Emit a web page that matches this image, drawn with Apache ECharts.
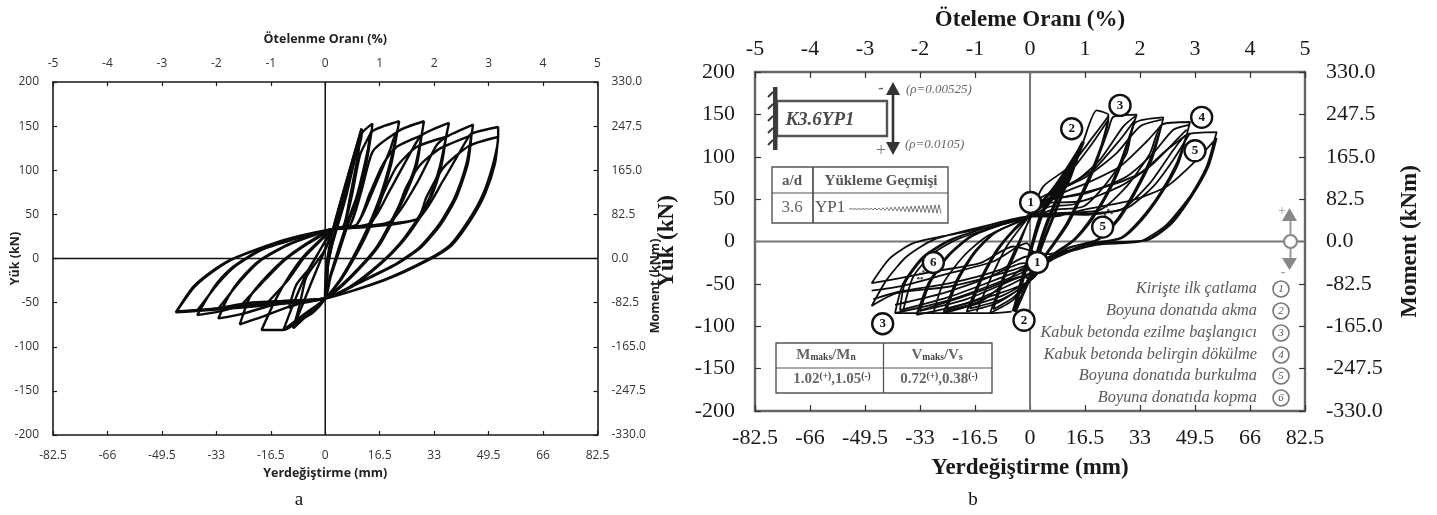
<!DOCTYPE html>
<html><head><meta charset="utf-8">
<style>html,body{margin:0;padding:0;background:#fff}#c{width:1437px;height:515px}</style>
<script src="https://cdn.jsdelivr.net/npm/echarts@6/dist/echarts.min.js"></script>
</head><body><div id="c"></div>
<script>
// Axis limits
const momentMax = 330, loadMax = 200, dispMax = 82.5;

// Chart a: hysteresis loops, [displacement mm, load kN]
const aLevel0 = [[-0.1,-45.3],[0.3,-10],[2.4,33.6],[6.5,88.7],[11,147],[6.2,70],[3.4,35.8],[0.9,-5.7],[-0.1,-45.3],[-4,-62],[-9,-72],[-4.5,-30],[-0.2,9],[2.4,33.6],[6.8,88],[10.6,140],[6.3,70],[3.6,35],[0.6,-6],[0,-44]];
const aLevel1 = [[2.4,33.6],[6.5,88.7],[11,147.2],[11,139.6],[8.5,107.5],[6,69.8],[3.4,35.8],[0.9,-5.7],[-0.1,-45.3],[-4.8,-62],[-9.7,-79.2],[-7.7,-52],[-5.7,-20.8],[-0.1,9.4],[2.4,33.6]];
const aLevel2 = [[2.4,33.6],[5.5,36.6],[7.5,69.8],[10,118.9],[11,141.5],[14.3,152.8],[14,143.4],[12,107.5],[9.5,69.8],[6.5,39.6],[3.9,9.4],[1.4,-20.8],[-0.1,-45.3],[-6,-62],[-12.7,-81.1],[-9.5,-50],[-5.7,-17],[-1.6,9.4],[2.4,33.6],[5.5,36.6],[8,70],[10.6,118],[14,143.4],[12.4,107],[9.9,70],[6.9,39],[4.3,9],[1.6,-21],[-0.1,-45.3],[-6,-48],[-11,-56],[-8.8,-30],[-4.6,-10],[-1.2,12],[2.4,33.6]];
const aLevel3 = [[2.4,33.6],[7.5,37.7],[10.5,77.4],[13,122.6],[14,143.4],[22.4,155.5],[21.8,143.4],[19.6,107.5],[16.6,69.8],[12.5,32],[8.5,1.9],[4.4,-24.5],[-0.1,-45.3],[-7.7,-69.8],[-12.7,-81.1],[-19.3,-81.1],[-15.5,-50],[-11.7,-24.5],[-6.7,1.9],[-1.6,20.8],[2.4,33.6],[7.5,37.7],[11,77],[14.5,122],[21.8,143.4],[20,107],[17,69],[13,31],[9,2],[4.8,-24],[-0.1,-45.3],[-9.7,-49],[-18.5,-54],[-11.2,-24],[-6.2,2],[-1.2,21],[2.4,33.6]];
const aLevel4 = [[2.4,33.6],[9.5,38.5],[14.5,77.4],[19.6,122.6],[21.8,143.4],[29.9,155.5],[29.2,139.6],[27.2,103.8],[23.6,69.8],[19.6,39.6],[15.6,13.2],[10.5,-9.4],[4.4,-32],[-0.1,-45.3],[-9,-52],[-19,-66],[-25.9,-74.7],[-22.8,-43.4],[-18.8,-24.5],[-12.7,-1.9],[-5.7,17],[2.4,33.6],[9.5,38.5],[13.5,73.6],[17.6,107.5],[21.6,126.4],[29.2,139.6],[27.6,103.8],[24,69.8],[20,39],[16,13],[11,-9],[4.8,-32],[-0.1,-45.3],[-12.7,-48],[-25.5,-53],[-18.2,-24],[-12.2,-1.5],[-5.2,17],[2.4,33.6]];
const aLevel5 = [[2.4,33.6],[13.5,39.6],[19.6,77.4],[25.7,118.9],[29.2,139.6],[37.5,153.6],[36.6,137.7],[34.7,103.8],[31.7,69.8],[27.7,43.4],[22.6,17],[16.6,-5.7],[7.5,-32],[-0.1,-45.3],[-12,-49],[-25.5,-63],[-32.4,-67.9],[-29.5,-44],[-25.9,-24.5],[-19.8,-1.9],[-10.7,17],[2.4,33.6],[13.5,39.6],[17.6,73.6],[21.6,103.8],[27.7,126.4],[36.6,137.7],[35.1,103.8],[32.1,69.8],[28.1,43],[23,17],[17,-5.5],[8,-32],[-0.1,-45.3],[-22.8,-50],[-32.4,-56.6],[-25.4,-24],[-19.3,-1.5],[-10.2,17],[2.4,33.6]];
const aLevel6 = [[2.4,33.6],[19.6,41.5],[27.7,84.9],[33.7,128.3],[36.6,137.7],[44.8,151.7],[44.3,139.6],[42.8,107.5],[39.3,69.8],[34.7,39.6],[28.7,13.2],[21.6,-5.7],[9.5,-28.3],[-0.1,-45.3],[-22.8,-50.9],[-32,-60],[-38.8,-64.2],[-36,-46],[-32.9,-28.3],[-27.9,-9.4],[-19.8,9.4],[-10.7,20.8],[2.4,33.6],[19.6,41.5],[24.6,81.1],[28.7,105.7],[34.7,124.5],[44.3,139.6],[43.2,107.5],[39.8,69.8],[35.2,39.6],[29.2,13.2],[22,-5.7],[10,-28.3],[-0.1,-45.3],[-22.8,-52],[-38.8,-59],[-32.4,-28],[-27.4,-9],[-19.3,9.8],[-10.2,21],[2.4,33.6]];
const aLevel7 = [[2.4,33.6],[27.7,44.2],[35.8,88.7],[42.8,134],[44.3,141.5],[52.4,149],[52.4,137.7],[50.9,107.5],[47.9,73.6],[43.8,45.3],[37.8,15.1],[30.7,-1.9],[17.6,-24.5],[-0.1,-45.3],[-22.8,-54.7],[-45.3,-61.1],[-40,-32],[-33.9,-13.2],[-27.9,0],[-12.7,20.8],[2.4,33.6],[27.7,44.2],[30.7,69.8],[35.8,103],[43.8,128],[52.4,137.7],[51.4,107],[48.4,73],[44.3,45],[38.3,15],[31.2,-1.9],[18,-24.5],[-0.1,-45.3],[-22.8,-54],[-45,-60],[-39.6,-32],[-33.4,-13],[-27.4,0.5],[-12.2,21],[2.4,33.6]];

// Chart b: hysteresis loops, [displacement mm, load kN]
const bLevel2 = [[0,29.5],[8,68.9],[16,118],[12,76.8],[8,37.4],[4,-2],[0,-45.3],[-5,-68.9],[-12,-84.6],[-8,-41.3],[-4,-5.9],[1,33.5],[8.5,68],[15.5,116],[11.6,76],[7.6,37],[3.6,-2],[-0.4,-45],[-5,-66],[-11,-80],[-7.5,-41],[-3.5,-6],[0,29.5]];
const bLevel3 = [[0,29.5],[5,45.3],[11,65],[16,118],[20,154.7],[23.5,149.6],[23.5,143.7],[19,88.6],[15,53.1],[11,21.7],[7,-2],[2,-29.5],[-1,-49.2],[-10,-72.8],[-19,-82.7],[-15,-45.3],[-10,-9.8],[-5,13.8],[0,33.5],[4,49.2],[11,76.8],[18,112],[23.5,143.7],[19.5,88],[15.5,53],[11.5,21],[7.5,-2],[2.5,-29],[-0.5,-49],[-9,-69],[-18,-79],[-14.5,-45],[-9.5,-9.5],[-4.5,14],[0,29.5]];
const bLevel4 = [[0,29.5],[6,41.3],[14,45.3],[19,84.6],[23.5,131.9],[25,147],[32,149.6],[31.5,143.7],[27,92.5],[23,57],[18,25.6],[13,2],[6,-17.7],[0,-45.3],[-9,-65],[-26,-84.6],[-22,-45.3],[-17,-13.8],[-11,9.8],[0,29.5],[9,61],[19,84.6],[27,120],[31.5,143.7],[27.5,92],[23.5,57],[18.5,25],[13.5,2],[6.5,-18],[0.5,-45],[-9,-61],[-25,-80],[-21.5,-45],[-16.5,-13.5],[-10.5,10],[0,29.5]];
const bLevel5 = [[0,29.5],[7,37.4],[16,41.3],[23,68.9],[29,104],[31.5,140],[40,146.5],[39.5,137.8],[36,96.5],[31,57],[26,25.6],[20,2],[11,-7.9],[2,-33.5],[-5,-49.2],[-19,-72.8],[-34,-86.6],[-30.5,-49.2],[-25,-17.7],[-18,5.9],[-9,19.7],[0,29.5],[5,49.2],[17,68.9],[27,88.6],[35,118],[39.5,137.8],[36.5,96],[31.5,57],[26.5,25],[20.5,2],[11.5,-8],[2.5,-33],[-5,-45],[-19,-68],[-33,-82],[-30,-49],[-24.5,-17.5],[-17.5,6],[-8.5,20],[0,29.5]];
const bLevel6 = [[0,29.5],[8,33.5],[21,37.4],[29,65],[36,104],[39.5,137.8],[48,141],[47,126],[44,92.5],[39,57],[33,25.6],[27,3.9],[16,-3.9],[4,-25.6],[-5,-41.3],[-24,-68.9],[-40.5,-84.6],[-38,-49.2],[-32,-17.7],[-24,2],[-12,17.7],[0,29.5],[4,49.2],[11,53.1],[23,65],[33,80.7],[41,108],[47,126],[44.5,92],[39.5,57],[33.5,25],[27.5,4],[16.5,-4],[4.5,-25],[-5,-37.4],[-24,-65],[-39,-81],[-37.5,-49],[-31.5,-17.5],[-23.5,2],[-11.5,18],[0,29.5]];
const bLevel7 = [[0,29.5],[8,31.5],[27,37.4],[36,68.9],[43,108],[47,126],[56,129],[55.5,122],[53,88.6],[48,53.1],[42,21.7],[35,2],[21,-2],[6,-17.7],[-5,-33.5],[-24,-53.1],[-40,-61],[-47.5,-76],[-43,-45.3],[-37,-17.7],[-29,2],[-14,17.7],[0,29.5],[7,29.5],[16,37.4],[31,49.2],[41,65],[48,88.6],[56,122],[53.5,88],[48.5,53],[42.5,21],[35.5,2],[21.5,-2],[5,-15],[-5,-5.9],[-15,-25.6],[-29,-35.4],[-39,-43.3],[-47.5,-49.2],[-42,-19.7],[-35,-2],[-24,7.9],[-9,19.7],[0,29.5]];
// Chart b: extra cycles that fill the fans
const bFanUp1 = [[0,29.5],[4,47.2],[17,57],[29,76.8],[37,104.3],[43,131.9],[48,138]];
const bFanUp2 = [[0,29.5],[4,45.3],[15,47.2],[27,65],[36,88.6],[45,124],[47,132]];
const bFanUp3 = [[0,29.5],[5,53.1],[17,76.8],[26,104.3],[33,135.8],[39.5,143.7]];
const bFanUp4 = [[0,29.5],[3,51.2],[13,68.9],[21,96.5],[28,135.8],[31.5,147.6]];
const bFanUp5 = [[0,29.5],[4,65],[12,88.6],[19,124],[23.5,147.6]];
const bFanUp6 = [[0,29.5],[3,33.5],[16,31.5],[29,39.4],[37,65],[43,96.5],[48,128]];
const bFanDown1 = [[1,-25],[-1,-17.7],[-9,-33.5],[-24,-49.2],[-39,-59],[-47,-68]];
const bFanDown2 = [[1,-30],[-2,-25.6],[-13,-43.3],[-26,-61],[-40.5,-74.8]];
const bFanDown3 = [[0,-45],[-2,-41.3],[-14,-57],[-26,-72.8],[-34,-82.7]];
const bFanDown4 = [[1,-15],[-1,-2],[-11,-23.6],[-26,-39.4],[-39,-53],[-47.5,-58]];
const bFanDown5 = [[0,-28],[-3,-33.5],[-14,-68.9],[-26,-82.7]];
const bFloor = [[-40.5,-84.6],[-26,-84.6],[-12,-84.6],[-5.5,-82.7]];
const bRise1 = [[-38,-80.7],[-35,-41.3],[-29,-13.8],[-21,3.9],[0,29.5]];
const bRise2 = [[-29,-84.6],[-26,-49.2],[-20,-17.7],[-13,5.9],[0,29.5]];
const bRise3 = [[-16,-82.7],[-12,-45.3],[-7,-5.9],[-1,25.6]];
const bFlat = [[48,53],[41,20],[33,0],[20,-4],[6,-20],[-1,-47]];
const bCore = [[-5,-82.7],[-2.5,-49.2],[0.5,-5.9],[4.5,41.3],[10,72.8],[16,118],[12,80.7],[8,49.2],[4,9.8],[0,-41.3],[-4.5,-82.7],[-3,-53],[0,-13.8],[3.5,33.5],[9.5,64.9],[15.5,114]];

// Chart b: numbered damage markers, [displacement, load, label]
const bMarkers = [[0.2,46,'1'],[12.5,133,'2'],[27,160.6,'3'],[51.5,146.5,'4'],[49.5,107,'5'],[21.8,17,'5'],[2.2,-24.8,'1'],[-29,-24.8,'6'],[-44.2,-97,'3'],[-1.8,-93,'2']];
const bDebris = [[21.5,33.5],[23,41.5],[24.5,33.5],[22.5,31.5],[23.5,37],[-33.5,-43.3],[-32,-35.4],[-31,-33.5],[-32.5,-43.3],[-33,-38]];

// Text
const legendTexts = ['Kirişte ilk çatlama','Boyuna donatıda akma','Kabuk betonda ezilme başlangıcı','Kabuk betonda belirgin dökülme','Boyuna donatıda burkulma','Boyuna donatıda kopma'];
const legendRows = [289,311,333,355,376,398];

const aLoops = [aLevel0,aLevel1,aLevel2,aLevel3,aLevel4,aLevel5,aLevel6,aLevel7];
const bLoops = [bLevel2,bLevel3,bLevel4,bLevel5,bLevel6,bLevel7,bFanUp1,bFanUp2,bFanUp3,bFanUp4,bFanUp5,bFanUp6,bFanDown1,bFanDown2,bFanDown3,bFanDown4,bFanDown5,bFloor,bRise1,bRise2,bRise3,bFlat];

const SANS = '"Open Sans","Noto Sans",sans-serif';
const SERIF = '"Liberation Serif",serif';
const dark = '#333', frameA = '#1a1a1a', frameB = '#666';

function axes(g, cfg){
  const line = {show:true,onZero:false,lineStyle:{color:cfg.frame,width:cfg.frameW}};
  const tick = {show:true,inside:true,length:cfg.tick,lineStyle:{color:cfg.frame==='#666'?'#333':cfg.frame,width:1.2}};
  const lab = {color:cfg.labelColor,fontFamily:cfg.font,fontSize:cfg.labelSize,showMinLabel:true,showMaxLabel:true};
  const nm = (gap)=>({nameLocation:'middle',nameGap:gap,nameMoveOverlap:false,nameTextStyle:{fontFamily:cfg.font,fontWeight:'bold',fontSize:cfg.nameSize,color:cfg.nameColor}});
  return {
    x:[
      Object.assign({gridIndex:g,type:'value',position:'bottom',min:-dispMax,max:dispMax,interval:16.5,axisLine:line,axisTick:tick,splitLine:{show:false},axisLabel:Object.assign({margin:cfg.mxB},lab),name:'Yerdeğiştirme (mm)'},nm(cfg.gapB)),
      Object.assign({gridIndex:g,type:'value',position:'top',min:-5,max:5,interval:1,axisLine:line,axisTick:tick,splitLine:{show:false},axisLabel:Object.assign({margin:cfg.mxT},lab),name:cfg.topName},nm(cfg.gapT))
    ],
    y:[
      Object.assign({gridIndex:g,type:'value',position:'left',min:-loadMax,max:loadMax,interval:50,axisLine:line,axisTick:tick,splitLine:{show:false},axisLabel:Object.assign({margin:cfg.my},lab),name:'Yük (kN)'},nm(cfg.gapL)),
      Object.assign({gridIndex:g,type:'value',position:'right',min:-momentMax,max:momentMax,interval:82.5,axisLine:line,axisTick:tick,splitLine:{show:false},axisLabel:Object.assign({margin:cfg.my2,formatter:v=>v.toFixed(1)},lab)},
        cfg.momentInAxis?Object.assign({name:'Moment (kNm)'},nm(cfg.gapR)):{})
    ]
  };
}
const aAx = axes(0,{frame:frameA,frameW:1.6,tick:4,labelColor:dark,font:SANS,labelSize:12,nameSize:12.5,nameColor:'#222',mxB:15,mxT:12,my:14,my2:14,gapB:32,gapT:36,gapL:31,topName:'Ötelenme Oranı (%)',momentInAxis:false});
const bAx = axes(1,{frame:frameB,frameW:2.4,tick:6,labelColor:'#1a1a1a',font:SERIF,labelSize:22,nameSize:23,nameColor:'#1a1a1a',mxB:16,mxT:12,my:20,my2:21,gapB:46,gapT:40,gapL:76,gapR:94,topName:'Öteleme Oranı (%)',momentInAxis:true});

const series = [];
function cross(xi, yi, col, w){
  series.push({type:'line',xAxisIndex:xi,yAxisIndex:yi,data:[[0,-loadMax],[0,loadMax]],symbol:'none',silent:true,z:1,lineStyle:{color:col,width:w}});
  series.push({type:'line',xAxisIndex:xi,yAxisIndex:yi,data:[[-dispMax,0],[dispMax,0]],symbol:'none',silent:true,z:1,lineStyle:{color:col,width:w}});
}
cross(0,0,'#111',1.5);
cross(2,2,'#777',2);
aLoops.forEach(d=>series.push({type:'line',xAxisIndex:0,yAxisIndex:0,data:d,symbol:'none',smooth:0.22,z:3,lineStyle:{color:'#0b0b0b',width:2.4}}));
bLoops.forEach(d=>series.push({type:'line',xAxisIndex:2,yAxisIndex:2,data:d,symbol:'none',smooth:0.22,z:3,lineStyle:{color:'#0d0d0d',width:1.8}}));
series.push({type:'line',xAxisIndex:2,yAxisIndex:2,data:bCore,symbol:'none',smooth:0.22,z:3,lineStyle:{color:'#0d0d0d',width:3.4}});
series.push({type:'scatter',xAxisIndex:2,yAxisIndex:2,data:bDebris,symbol:'circle',symbolSize:2.6,z:4,itemStyle:{color:'#222'}});
series.push({type:'scatter',xAxisIndex:2,yAxisIndex:2,data:bMarkers,symbol:'circle',symbolSize:21,z:5,
  itemStyle:{color:'#fff',borderColor:'#111',borderWidth:2.4,opacity:1},
  label:{show:true,position:'inside',formatter:p=>p.data[2],fontFamily:SERIF,fontWeight:'bold',fontSize:13,color:'#111'}});

// Annotations of chart b
const g = [];
const gTxt = (x,y,text,o={})=>g.push({type:'text',x,y,z:10,rotation:o.rot||0,style:{text,fontFamily:o.font||SERIF,fontSize:o.size||15,fontWeight:o.weight||'normal',fontStyle:o.style||'normal',fill:o.color||'#444',align:o.align||'center',verticalAlign:'middle',rich:o.rich}});
const gRect = (x,y,w,h,stroke,lw)=>g.push({type:'rect',z:9,shape:{x,y,width:w,height:h},style:{fill:'#fff',stroke,lineWidth:lw}});
const gLine = (x1,y1,x2,y2,stroke,lw)=>g.push({type:'line',z:10,shape:{x1,y1,x2,y2},style:{stroke,lineWidth:lw}});
const gTri = (pts,fill)=>g.push({type:'polygon',z:10,shape:{points:pts},style:{fill}});

gTxt(299,500,'a',{size:19,color:'#111'});
gTxt(973,500,'b',{size:19,color:'#111'});
g.push({type:'text',x:655,y:286,z:10,rotation:Math.PI/2,style:{text:'Moment (kNm)',fontFamily:SANS,fontSize:12.5,fontWeight:'bold',fill:'#222',align:'center',verticalAlign:'middle'}});

// Beam sketch
gRect(777,101,110,35,'#555',2.4);
g.push({type:'rect',z:10,shape:{x:773,y:87,width:4.5,height:63},style:{fill:'#3a3a3a'}});
[92,104,116,128,140].forEach(y=>gLine(768,y+5,773,y,'#3a3a3a',2));
gTxt(820,120,'K3.6YP1',{size:19,weight:'bold',style:'italic',color:'#4a4a4a'});
gLine(893,92,893,146,'#333',2.6);
gTri([[893,82],[886,95],[900,95]],'#333');
gTri([[893,155],[886,142],[900,142]],'#333');
gTxt(881,89,'-',{size:16,weight:'bold',color:'#666'});
gTxt(881,151,'+',{size:18,color:'#777'});
gTxt(906,90,'(ρ=0.00525)',{size:13,style:'italic',align:'left',color:'#666'});
gTxt(905,145,'(ρ=0.0105)',{size:13,style:'italic',align:'left',color:'#666'});

// Loading history table
gRect(772,167,176,56,'#555',1.4);
gLine(772,193,948,193,'#555',1.2);
gLine(813,167,813,223,'#444',1.6);
gTxt(792,181,'a/d',{size:15,weight:'bold',color:'#555'});
gTxt(881,181,'Yükleme Geçmişi',{size:15,weight:'bold',color:'#555'});
gTxt(792,208,'3.6',{size:17,color:'#666'});
gTxt(815,208,'YP1',{size:17,color:'#555',align:'left'});
// loading-history glyph
const zz=[[849,209]];
for(let i=1;i<=46;i++){const a=i<8?0.3:Math.min(4.5,0.3+(i-8)*0.11);zz.push([849+i*2,209+(i%2?-a:a)]);}
g.push({type:'polyline',z:10,shape:{points:zz},style:{stroke:'#666',fill:null,lineWidth:0.9}});

// Ratio table
gRect(776,343,216,50,'#555',1.4);
gLine(776,368,992,368,'#555',1.2);
gLine(883.5,343,883.5,393,'#555',1.3);
const rich = {a:{fontFamily:SERIF,fontWeight:'bold',fontSize:15,fill:'#666',color:'#666'},s:{fontFamily:SERIF,fontWeight:'bold',fontSize:9.5,color:'#666',verticalAlign:'bottom'},u:{fontFamily:SERIF,fontWeight:'bold',fontSize:9.5,color:'#666',verticalAlign:'top'}};
gTxt(826,355,'{a|M}{s|maks}{a|/M}{s|n}',{rich});
gTxt(937,355,'{a|V}{s|maks}{a|/V}{s|s}',{rich});
gTxt(832,379,'{a|1.02}{u|(+)}{a|,1.05}{u|(-)}',{rich});
gTxt(939,379,'{a|0.72}{u|(+)}{a|,0.38}{u|(-)}',{rich});

// Legend of damage states
legendTexts.forEach((t,i)=>{
  gTxt(1257,legendRows[i],t,{size:16.3,style:'italic',align:'right',color:'#5a5a5a'});
  g.push({type:'circle',z:10,shape:{cx:1281,cy:legendRows[i],r:8},style:{fill:'#fff',stroke:'#777',lineWidth:1.6}});
  gTxt(1281,legendRows[i],String(i+1),{size:11,style:'italic',color:'#555'});
});

// Sign convention
gLine(1290.5,218,1290.5,262,'#999',2);
g.push({type:'circle',z:11,shape:{cx:1290.5,cy:241.5,r:6.5},style:{fill:'#fff',stroke:'#888',lineWidth:2.2}});
gTri([[1289.5,208],[1282,221],[1297,221]],'#888');
gTri([[1289.5,270],[1282,258],[1297,258]],'#888');
gTxt(1282,211,'+',{size:14,color:'#999'});
gTxt(1283,272,'-',{size:14,color:'#999'});

const chart = echarts.init(document.getElementById('c'),null,{renderer:'canvas'});
chart.setOption({
  animation:false,
  backgroundColor:'#fff',
  grid:[
    {left:53,top:82,width:544.5,height:353,containLabel:false,outerBoundsMode:'none'},
    {left:755,top:72,width:550,height:339,containLabel:false,outerBoundsMode:'none'}
  ],
  xAxis:[...aAx.x,...bAx.x],
  yAxis:[...aAx.y,...bAx.y],
  series,
  graphic:{elements:g}
});
</script></body></html>
